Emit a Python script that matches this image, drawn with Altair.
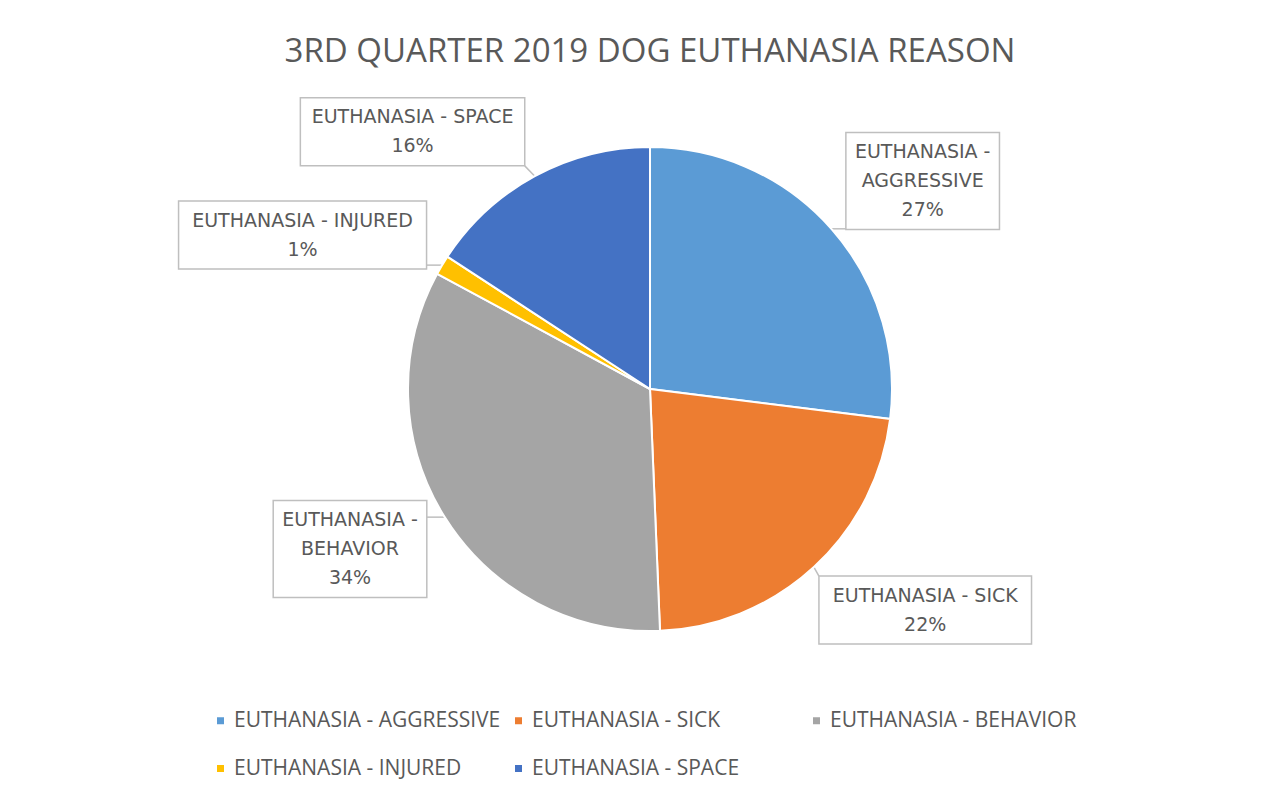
import math
import altair as alt
import pandas as pd

# ---- data ----
categories = [
    "EUTHANASIA - AGGRESSIVE",
    "EUTHANASIA - SICK",
    "EUTHANASIA - BEHAVIOR",
    "EUTHANASIA - INJURED",
    "EUTHANASIA - SPACE",
]
counts = [41, 34, 51, 2, 24]
colors = ["#5B9BD5", "#ED7D31", "#A5A5A5", "#FFC000", "#4472C4"]

# ---- label callout placement (angle nudge in degrees, distance in px) ----
label_turn = [4.1, -8.6, 3.9, -6.9, -14.3]
label_dist = [343, 353, 340, 380, 350]

# ---- layout ----
W, H = 1272, 690
TOP_PAD, TITLE_OFFSET = 28, 20
CX, CY, R = 642, 300, 242
LH = 29
FONT = "Open Sans"
LABEL_FONT = "DejaVu Sans"
TEXT_COLOR = "#595959"

total = sum(counts)
rows, boxes, leaders = [], [], []
cum = 0.0
for i, (name, n) in enumerate(zip(categories, counts)):
    frac = n / total
    mid = (cum + frac / 2) * 360.0
    cum += frac
    pct = f"{round(frac * 100):d}%"
    if len(name) > 20:
        a, b = name.split(" - ")
        lines = [a + " -", b, pct]
    else:
        lines = [name, pct]
    mr = math.radians(mid)
    ex, ey = CX + R * math.sin(mr), CY - R * math.cos(mr)
    lr = math.radians(mid + label_turn[i])
    bx, by = CX + label_dist[i] * math.sin(lr), CY - label_dist[i] * math.cos(lr)
    longest = max(len(s) for s in lines)
    bw = longest * 11.8 + 12
    bh = len(lines) * LH + 10
    x0, x1, y0, y1 = bx - bw / 2, bx + bw / 2, by - bh / 2, by + bh / 2
    sx, sy = min(max(ex, x0), x1), min(max(ey, y0), y1)
    rows.append({"category": name, "count": n, "idx": i})
    boxes.append({"category": name, "x0": x0, "x1": x1, "y0": y0, "y1": y1,
                  "bx": bx, "ty": by - (len(lines) - 1) * LH / 2, "lines": lines})
    leaders.append({"category": name, "sx": sx, "sy": sy, "ex": ex, "ey": ey})

pie_df = pd.DataFrame(rows)
box_df = pd.DataFrame(boxes)
lead_df = pd.DataFrame(leaders)

xs = alt.Scale(domain=[0, W], range=[0, W], nice=False, zero=False)
ys = alt.Scale(domain=[0, H], range=[0, H], nice=False, zero=False)

color_scale = alt.Scale(domain=categories, range=colors)

pie = alt.Chart(pie_df).mark_arc(radius=R, stroke="white", strokeWidth=2).encode(
    theta=alt.Theta("count:Q", stack=True),
    order=alt.Order("idx:Q"),
    color=alt.Color(
        "category:N",
        scale=color_scale,
        sort=categories,
        legend=alt.Legend(
            title=None,
            orient="none",
            legendX=202,
            legendY=621,
            direction="horizontal",
            columns=3,
            gridAlign="all",
            symbolType="square",
            symbolSize=49,
            symbolStrokeWidth=0,
            labelFont=FONT,
            labelFontSize=21,
            labelColor=TEXT_COLOR,
            labelOffset=3,
            labelLimit=400,
            columnPadding=7,
            rowPadding=26,
            padding=0,
        ),
    ),
    x=alt.value(CX),
    y=alt.value(CY),
)

lead = alt.Chart(lead_df).mark_rule(color="#BFBFBF", strokeWidth=1.5).encode(
    x=alt.X("sx:Q", scale=xs, axis=None),
    y=alt.Y("sy:Q", scale=ys, axis=None),
    x2="ex:Q",
    y2="ey:Q",
)

box = alt.Chart(box_df).mark_rect(fill="white", stroke="#BFBFBF", strokeWidth=1.5).encode(
    x=alt.X("x0:Q", scale=xs, axis=None),
    x2="x1:Q",
    y=alt.Y("y0:Q", scale=ys, axis=None),
    y2="y1:Q",
)

txt = alt.Chart(box_df).mark_text(
    font=LABEL_FONT, fontSize=19, color=TEXT_COLOR, align="center", baseline="middle", lineHeight=LH
).encode(
    x=alt.X("bx:Q", scale=xs, axis=None),
    y=alt.Y("ty:Q", scale=ys, axis=None),
    text="lines",
)

chart = (
    alt.layer(lead, pie, box, txt)
    .properties(
        width=W,
        height=H,
        padding={"top": TOP_PAD, "left": 0, "right": 0, "bottom": 0},
        title=alt.Title(
            "3RD QUARTER 2019 DOG EUTHANASIA REASON",
            font=FONT,
            fontSize=33,
            fontWeight="normal",
            color=TEXT_COLOR,
            anchor="middle",
            offset=TITLE_OFFSET,
            dx=6,
        ),
    )
    .configure_view(stroke=None)
    .resolve_scale(x="shared", y="shared")
)

chart.save("out.html", embed_options={"renderer": "svg", "actions": False})
